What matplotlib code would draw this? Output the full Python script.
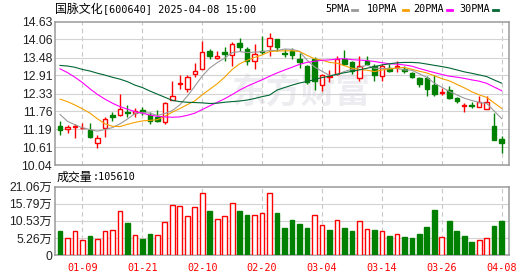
import numpy as np
import matplotlib
matplotlib.use('Agg')
import matplotlib.pyplot as plt

# daily candles, 60 sessions ending 2025-04-08
opens = [11.28, 11.20, 11.26, 11.22, 11.17, 10.73, 11.22, 11.63, 11.655, 11.73,
         11.69, 11.80, 11.655, 11.57, 11.42, 12.13, 12.63, 12.49, 12.94, 13.13,
         13.68, 13.46, 13.66, 13.55, 13.95, 13.74, 13.36, 13.68, 13.84, 14.08,
         13.63, 13.68, 13.42, 13.22, 13.45, 12.59, 12.86, 12.94, 13.42, 13.34,
         12.83, 13.36, 13.20, 12.88, 13.15, 13.18, 13.10, 12.99, 12.83, 12.83,
         12.59, 12.36, 12.43, 12.19, 11.92, 11.975, 11.89, 11.82, 11.28, 10.88]
highs = [11.44, 11.31, 11.355, 11.38, 11.38, 10.99, 11.57, 11.74, 12.32, 11.95,
         11.87, 11.90, 11.74, 11.79, 12.05, 12.74, 12.91, 12.91, 13.31, 14.02,
         13.74, 13.68, 13.81, 13.98, 14.11, 13.81, 13.90, 14.16, 14.27, 14.08,
         13.76, 13.79, 13.63, 13.24, 13.49, 12.96, 13.08, 13.52, 13.71, 13.36,
         13.52, 13.52, 13.26, 13.26, 13.26, 13.38, 13.20, 13.02, 12.85, 12.90,
         12.93, 12.51, 12.56, 12.22, 12.03, 12.06, 12.24, 12.24, 11.71, 10.96]
lows = [11.01, 11.05, 10.89, 11.20, 10.92, 10.57, 10.95, 11.44, 11.62, 11.58,
        11.58, 11.655, 11.36, 11.42, 11.36, 12.12, 12.49, 12.38, 12.87, 13.13,
        13.45, 13.45, 13.36, 13.22, 13.70, 13.23, 13.13, 13.60, 13.52, 13.68,
        13.49, 13.45, 13.15, 12.64, 12.45, 12.40, 12.69, 12.92, 13.24, 12.94,
        12.74, 13.26, 12.74, 12.74, 13.02, 13.02, 12.99, 12.83, 12.54, 12.26,
        12.26, 12.27, 12.16, 12.03, 11.74, 11.87, 11.89, 11.82, 10.85, 10.43]
closes = [11.17, 11.26, 11.28, 11.24, 10.93, 10.91, 11.52, 11.59, 11.84, 11.69,
          11.77, 11.75, 11.46, 11.45, 12.02, 12.24, 12.66, 12.85, 13.04, 13.66,
          13.52, 13.52, 13.58, 13.92, 13.82, 13.36, 13.60, 13.65, 14.11, 13.81,
          13.60, 13.55, 13.33, 12.70, 12.72, 12.91, 12.88, 13.42, 13.26, 13.04,
          13.20, 13.29, 12.91, 13.20, 13.06, 13.20, 13.06, 12.86, 12.62, 12.49,
          12.30, 12.38, 12.19, 12.08, 11.95, 11.94, 12.05, 12.05, 10.855, 10.73]

# volume in 万 (10k) and its colour (1 = red, 0 = green)
volumes = [7.31, 5.31, 7.51, 4.51, 6.01, 5.01, 7.51, 7.71, 13.7, 10.0,
           6.2, 4.8, 6.6, 6.2, 10.2, 15.3, 15.0, 11.9, 14.7, 19.2,
           13.5, 11.0, 11.9, 16.1, 13.5, 12.3, 12.3, 12.9, 19.2, 13.0,
           8.4, 10.8, 9.6, 8.4, 12.3, 9.3, 7.8, 10.7, 8.4, 7.5,
           10.4, 8.0, 7.8, 7.5, 6.0, 6.5, 5.7, 5.1, 6.6, 8.7,
           13.8, 5.6, 10.5, 7.5, 6.0, 3.9, 4.5, 5.3, 9.0, 10.561]
vol_up = [0, 1, 1, 1, 0, 1, 1, 1, 1, 0,
          1, 0, 0, 1, 1, 1, 1, 1, 1, 1,
          0, 1, 1, 1, 0, 0, 1, 1, 1, 0,
          0, 0, 0, 0, 1, 1, 0, 1, 0, 0,
          1, 1, 0, 1, 0, 1, 0, 0, 0, 0,
          0, 1, 0, 0, 0, 0, 1, 1, 0, 0]

# moving average values before a full window is available
ma5_head = [11.66, 11.44, 11.33, 11.23]
ma10_head = [12.15, 12.07, 11.96, 11.84, 11.70, 11.52, 11.36, 11.28, 11.27]
ma20_head = [13.12, 13.00, 12.85, 12.68, 12.48, 12.30, 12.15, 12.02, 11.91, 11.83,
             11.75, 11.70, 11.64, 11.60, 11.58, 11.57, 11.58, 11.63, 11.70]
ma30_head = [13.23, 13.21, 13.17, 13.10, 13.05, 12.98, 12.92, 12.85, 12.79, 12.71,
             12.60, 12.52, 12.41, 12.31, 12.21, 12.11, 12.07, 12.05, 12.04, 12.03,
             12.01, 12.02, 12.05, 12.07, 12.09, 12.12, 12.17, 12.23, 12.28]

price_ticks = [10.04, 10.61, 11.19, 11.76, 12.33, 12.91, 13.48, 14.06, 14.63]
vol_ticks = [0, 5.26, 10.53, 15.79, 21.06]
vol_labels = ['0', '5.26万', '10.53万', '15.79万', '21.06万']
date_idx = [3, 11, 19, 27, 35, 43, 51, 59]
date_labels = ['01-09', '01-21', '02-10', '02-20', '03-04', '03-14', '03-26', '04-08']

RED = '#ff0000'
GREEN = '#008000'
GRID = '#d3d3d3'
FRAME = '#9a9a9a'
MONO = ['DejaVu Sans Mono', 'Noto Sans CJK SC']
SANS = ['Liberation Sans', 'Noto Sans CJK SC']
CJK = 'Noto Sans CJK SC'


def moving_average(head, n):
    c = np.array(closes)
    out = list(head)
    for i in range(len(head), len(c)):
        out.append(c[i - n + 1:i + 1].mean())
    return np.array(out)


W, H = 530, 276
fig = plt.figure(figsize=(W / 100, H / 100), dpi=100)


def box(l, t, r, b):
    return [l / W, 1 - b / H, (r - l) / W, (b - t) / H]


ax = fig.add_axes(box(55, 21.7, 509.3, 165))
axv = fig.add_axes(box(55, 186.7, 509.3, 255))

x = np.arange(len(closes))
o = np.array(opens)
c = np.array(closes)
hi = np.array(highs)
lo = np.array(lows)
up = c >= o

for a in (ax, axv):
    a.set_xlim(-0.67, 60.02)
    for s in a.spines.values():
        s.set_color(FRAME)
        s.set_linewidth(1.1)
    for i in date_idx:
        a.axvline(i, color='#c8c8c8', lw=0.8, ls=(0, (4, 3)), zorder=1)
    a.tick_params(length=0)

# watermark
ax.text(0.5415, 0.506, '东方财富', transform=ax.transAxes, ha='center', va='center',
        fontsize=25, fontweight='bold', color='#ededf1', family=CJK, zorder=0)

# price panel
ax.set_ylim(price_ticks[0], price_ticks[-1])
ax.set_yticks(price_ticks)
ax.set_yticklabels(['%.2f' % v for v in price_ticks], family=SANS, fontsize=8.8, color='#222222')
ax.set_xticks([])
for v in price_ticks[1:-1]:
    ax.axhline(v, color=GRID, lw=0.8, zorder=1)
ax.tick_params(axis='y', pad=2)

colors = np.where(up, RED, GREEN)
ax.vlines(x, lo, hi, colors=colors, lw=1.0, zorder=2)
body_bot = np.minimum(o, c)
body_h = np.maximum(np.abs(c - o), 0.018)
ax.bar(x[up], body_h[up], bottom=body_bot[up], width=0.6, facecolor='white',
       edgecolor=RED, lw=1.0, zorder=3)
ax.bar(x[~up], body_h[~up], bottom=body_bot[~up], width=0.6, facecolor=GREEN,
       edgecolor=GREEN, lw=1.0, zorder=3)

ma_specs = [(ma5_head, 5, '#999999'), (ma10_head, 10, '#f5a000'),
            (ma20_head, 20, '#ff00ff'), (ma30_head, 30, '#006633')]
for head, n, col in ma_specs:
    ax.plot(x, moving_average(head, n), color=col, lw=0.8, zorder=4)

# volume panel
vu = np.array(vol_up) == 1
vol = np.array(volumes)
axv.set_ylim(0, vol_ticks[-1])
axv.set_yticks(vol_ticks)
axv.set_yticklabels(vol_labels, family=SANS, fontsize=8.8, color='#222222')
for v in vol_ticks[1:-1]:
    axv.axhline(v, color=GRID, lw=0.8, zorder=1)
axv.bar(x[vu], vol[vu], width=0.62, facecolor='white', edgecolor=RED, lw=1.0, zorder=3)
axv.bar(x[~vu], vol[~vu], width=0.62, facecolor=GREEN, edgecolor=GREEN, lw=1.0, zorder=3)
axv.set_xticks(date_idx)
axv.set_xticklabels(date_labels, family=MONO, fontsize=7.3, color=RED)
axv.tick_params(axis='x', pad=6)
axv.tick_params(axis='y', pad=2)

# header texts: CJK part and Latin part set separately to match widths
fig.text(55 / W, 1 - 9.5 / H, '国脉文化', family=CJK, fontsize=8.6,
         ha='left', va='center', color='black')
fig.text(103 / W, 1 - 9.5 / H, '[600640] 2025-04-08 15:00', family=MONO,
         fontsize=7.3, ha='left', va='center', color='black')
fig.text(57 / W, 1 - 177 / H, '成交量', family=CJK, fontsize=8.6,
         ha='left', va='center', color='black')
fig.text(93 / W, 1 - 177 / H, ':105610', family=MONO, fontsize=7.3,
         ha='left', va='center', color='black')

legend = [('5PMA', 325.7, 352, '#999999'), ('10PMA', 366.7, 403, '#f5a000'),
          ('20PMA', 412.7, 446.7, '#ff00ff'), ('30PMA', 459, 492.7, '#006633')]
for name, tx, dx, col in legend:
    fig.text(tx / W, 1 - 9.5 / H, name, family=MONO, fontsize=7.3,
             ha='left', va='center', color='black')
    fig.add_artist(plt.Line2D([dx / W, (dx + 5) / W], [1 - 9.5 / H, 1 - 9.5 / H],
                              color=col, lw=2.0, transform=fig.transFigure))

fig.savefig('out.png', dpi=100)
